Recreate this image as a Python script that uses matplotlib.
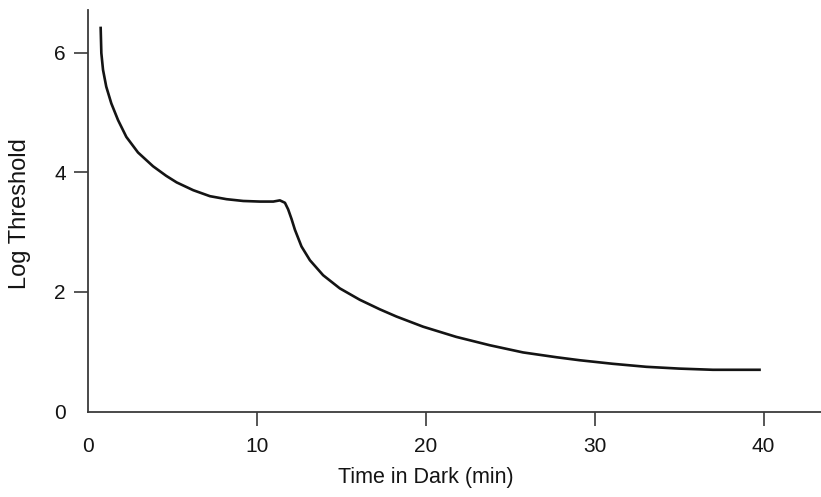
import matplotlib
matplotlib.use("Agg")
import matplotlib.pyplot as plt

plt.rcParams['font.family'] = ['Liberation Sans', 'DejaVu Sans']

# dark adaptation curve
time_min = [0.75, 0.79, 0.89, 1.08, 1.38, 1.78, 2.27, 2.96, 3.85, 4.63, 5.25,
            6.23, 7.22, 8.2, 9.19, 10.18, 10.97, 11.36, 11.66, 11.85, 12.05,
            12.25, 12.64, 13.14, 13.92, 14.91, 16.09, 17.28, 18.26, 19.84,
            21.8, 23.79, 25.76, 27.73, 29.1, 31.08, 33.05, 35.0, 37.0, 39.76]
log_thresh = [6.41, 5.99, 5.71, 5.43, 5.15, 4.87, 4.59, 4.33, 4.10, 3.94, 3.83,
              3.70, 3.60, 3.55, 3.52, 3.51, 3.51, 3.53, 3.49, 3.38, 3.22,
              3.04, 2.76, 2.53, 2.28, 2.06, 1.87, 1.71, 1.59, 1.42,
              1.25, 1.11, 0.99, 0.91, 0.86, 0.80, 0.75, 0.72, 0.70, 0.70]

x_ticks = [0, 10, 20, 30, 40]
y_ticks = [0, 2, 4, 6]

fig = plt.figure(figsize=(8.21, 4.97), dpi=100)
ax = fig.add_axes([88 / 821, (497 - 411.7) / 497, (821 - 88) / 821, (411.7 - 10) / 497])

ax.plot(time_min, log_thresh, color='#141414', lw=1.9, solid_joinstyle='round')

ax.set_xlim(0, 43.4)
ax.set_ylim(0, 6.71)
ax.set_xticks(x_ticks)
ax.set_yticks(y_ticks)

for side in ['top', 'right']:
    ax.spines[side].set_visible(False)
for side in ['left', 'bottom']:
    ax.spines[side].set_color('#3a3a3a')
    ax.spines[side].set_linewidth(1.3)

ax.tick_params(axis='both', length=10, width=1.2, color='#3a3a3a', labelsize=15,
               labelcolor='#141414')
ax.tick_params(axis='y', pad=6)
ax.tick_params(axis='x', pad=8)
# no tick marks at the origin
ax.xaxis.get_major_ticks()[0].tick1line.set_visible(False)
ax.yaxis.get_major_ticks()[0].tick1line.set_visible(False)

fig.text(426 / 821, 1 - 478 / 497, 'Time in Dark (min)', ha='center', va='center',
         fontsize=15.5, color='#141414')
fig.text(20 / 821, 1 - 214 / 497, 'Log Threshold', ha='center', va='center',
         rotation=90, fontsize=17, color='#141414')

fig.savefig('out.png', dpi=100)
